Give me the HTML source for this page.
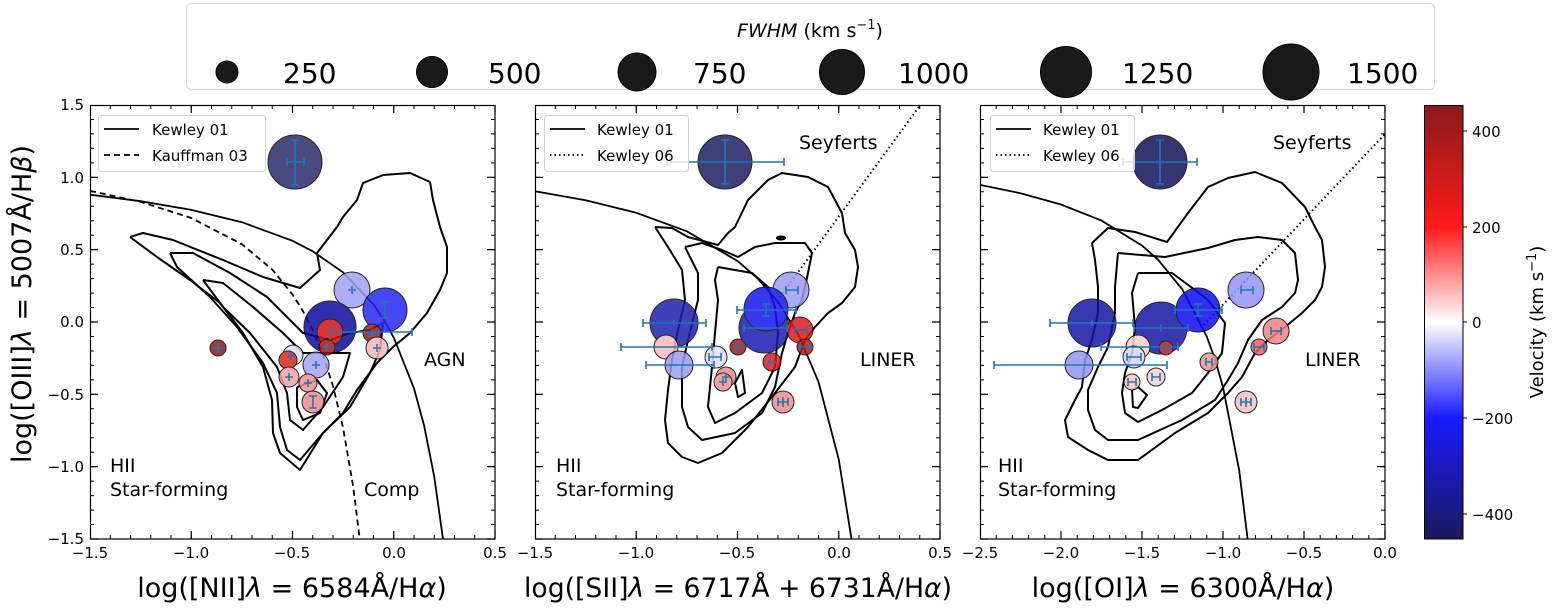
<!DOCTYPE html>
<html><head><meta charset="utf-8"><style>
html,body{margin:0;padding:0;background:#fff;}
svg{display:block;font-family:"DejaVu Sans","Liberation Sans",sans-serif;}
</style></head><body>
<svg width="1556" height="609" viewBox="0 0 1556 609" xmlns="http://www.w3.org/2000/svg">
<defs>
<linearGradient id="cb" x1="0" y1="0" x2="0" y2="1">
<stop offset="0" stop-color="#8a1a1a"/>
<stop offset="0.28" stop-color="#ff1a1a"/>
<stop offset="0.5" stop-color="#ffffff"/>
<stop offset="0.72" stop-color="#1a1aff"/>
<stop offset="1" stop-color="#1a1a5e"/>
</linearGradient>
</defs>

<!-- top legend -->
<rect x="186.5" y="3.5" width="1248" height="86" rx="5" fill="#fff" stroke="#d6d6d6"/>
<text x="810" y="37" font-size="19" text-anchor="middle"><tspan font-style="italic">FWHM</tspan> (km s<tspan dy="-8" font-size="13">−1</tspan><tspan dy="8">)</tspan></text>
<g fill="#1a1a1a" stroke="#000">
<circle cx="227" cy="72" r="11"/><circle cx="432" cy="72" r="15.5"/><circle cx="637" cy="72" r="19"/>
<circle cx="842" cy="72" r="22.5"/><circle cx="1066" cy="72" r="25.5"/><circle cx="1291" cy="72" r="28"/>
</g>
<g font-size="28">
<text x="283" y="83">250</text><text x="488" y="83">500</text><text x="693" y="83">750</text>
<text x="898" y="83">1000</text><text x="1122" y="83">1250</text><text x="1347" y="83">1500</text>
</g>

<!-- ===== PANEL 1 ===== -->
<g fill="none" stroke="#000" stroke-width="2" stroke-linejoin="round">
<polyline points="130,237 143,233 173,240 223,260 263,277 300,288 320,270 317,253 337,227 343,217 357,200 363,183 383,175 410,173 430,182 433,200 440,227 447,247 447,273 440,290 427,313 410,333 393,347 377,363 357,390 343,413 323,433 300,470 280,453 273,433 272,400 263,367 243,333 220,303 190,280 157,257 130,237"/>
<polyline points="170,253 193,253 230,273 267,297 303,333 330,340 350,333 370,330 383,323 380,350 370,373 350,407 323,433 300,460 287,450 280,427 277,393 263,363 237,327 210,297 177,267 170,253"/>
<polyline points="203,280 223,283 253,307 283,333 303,353 330,353 350,353 343,377 323,407 303,430 290,420 287,393 277,367 250,333 223,307 203,280"/>
<polyline points="297,387 317,380 327,393 320,413 303,420 297,407 297,387"/>
</g>
<polyline fill="none" stroke="#000" stroke-width="1.8" points="90,194.7 140.6,201.2 191.25,209.9 241.9,222.2 292.5,240.8 312.75,251.3 343.1,272.4 373.5,304.6 383.6,319.5 393.75,337.6 414,388.4 424.1,425.6 434.25,476.7 443,539"/>
<polyline fill="none" stroke="#000" stroke-width="1.8" stroke-dasharray="6,4" points="90,190.9 140.6,201.8 191.25,218 241.9,244.2 272.3,269.6 292.5,294.4 302.6,310.4 312.75,330.1 322.9,354.6 333,386.1 343.1,428 353.25,486.9 359.7,539"/>
<g stroke="#000" stroke-width="1" opacity="0.85">
<circle cx="295" cy="162" r="27" fill="#2a2b6a"/>
<circle cx="352" cy="290" r="18" fill="#a0a0f6"/>
<circle cx="385" cy="310" r="22" fill="#2626f2"/>
<circle cx="330" cy="327" r="26" fill="#0c0ca0"/>
<circle cx="330" cy="332" r="13" fill="#d81010"/>
<circle cx="327" cy="347" r="8" fill="#b01010"/>
<circle cx="372" cy="333" r="9" fill="#981c1c"/>
<circle cx="377" cy="348" r="11" fill="#f8b8b8"/>
<circle cx="218" cy="348" r="8" fill="#8b1c1c"/>
<circle cx="293" cy="355" r="10" fill="#dcdcf8"/>
<circle cx="288" cy="360" r="9" fill="#e02020"/>
<circle cx="316" cy="365" r="13" fill="#a4a4f6"/>
<circle cx="289" cy="377" r="10" fill="#f4a0a0"/>
<circle cx="308" cy="383" r="9" fill="#f29090"/>
<circle cx="313" cy="402" r="11" fill="#f28a8a"/>
</g>
<g stroke="#1f77b4" stroke-width="1.6" fill="none">
<path d="M295,140V185M291,140h8M291,185h8M287,162H304M287,158v8M304,158v8"/>
<path d="M330,332H412M412,328v8M330,324v16"/>
<path d="M352,286v8M348,290h8M385,302v16M381,302h8M381,318h8M372,329v8M368,333h8M377,344v8M373,348h8M218,344v8M214,348h8M316,361v8M312,365h8M313,396v12M309,396h8M309,408h8M289,373v8M285,377h8M308,379v8M304,383h8M291,352v8M287,356h8M327,343v8M323,347h8"/>
</g>
<rect x="98.5" y="115.5" width="167" height="56" rx="3" fill="#fff" fill-opacity="0.8" stroke="#d0d0d0"/>
<line x1="104" y1="129" x2="139" y2="129" stroke="#000" stroke-width="1.8"/>
<line x1="104" y1="155" x2="139" y2="155" stroke="#000" stroke-width="1.8" stroke-dasharray="6,4"/>
<text x="152" y="135" font-size="15">Kewley 01</text>
<text x="152" y="161" font-size="15">Kauffman 03</text>
<g font-size="19"><text x="110" y="472">HII</text><text x="110" y="496">Star-forming</text><text x="424" y="366">AGN</text><text x="364" y="496">Comp</text></g>
<rect x="90.5" y="105.5" width="404.5" height="433.5" fill="none" stroke="#000" stroke-width="1.2"/>
<g stroke="#000" stroke-width="1.1">
<line x1="90" y1="537" x2="496" y2="537" stroke-width="4" stroke-dasharray="1 19.25" stroke-dashoffset="0.5"/>
<line x1="90" y1="107" x2="496" y2="107" stroke-width="4" stroke-dasharray="1 19.25" stroke-dashoffset="0.5"/>
<line x1="90" y1="535" x2="496" y2="535" stroke-width="8" stroke-dasharray="1.2 100.05" stroke-dashoffset="0.6"/>
<line x1="90" y1="109" x2="496" y2="109" stroke-width="8" stroke-dasharray="1.2 100.05" stroke-dashoffset="0.6"/>
<line x1="92" y1="105" x2="92" y2="540" stroke-width="4" stroke-dasharray="1 13.467" stroke-dashoffset="0.5"/>
<line x1="493" y1="105" x2="493" y2="540" stroke-width="4" stroke-dasharray="1 13.467" stroke-dashoffset="0.5"/>
<line x1="94" y1="105" x2="94" y2="540" stroke-width="8" stroke-dasharray="1.2 71.13" stroke-dashoffset="0.6"/>
<line x1="491" y1="105" x2="491" y2="540" stroke-width="8" stroke-dasharray="1.2 71.13" stroke-dashoffset="0.6"/>
</g>

<!-- ===== PANEL 2 ===== -->
<g fill="none" stroke="#000" stroke-width="2" stroke-linejoin="round">
<polyline points="655,227 672,228 688,237 718,245 728,233 735,227 748,200 768,180 782,173 808,177 828,187 835,200 842,213 845,233 855,250 858,267 855,287 842,303 828,313 815,327 805,340 795,367 775,393 748,427 722,453 698,463 682,457 668,443 665,420 668,390 672,360 678,330 685,300 682,270 668,247 655,227"/>
<polyline points="685,247 702,243 722,250 738,257 755,247 775,243 805,243 812,253 808,273 802,300 795,313 788,333 782,353 775,387 762,413 735,433 702,440 688,427 682,407 682,367 688,340 698,300 698,273 685,247"/>
<polyline points="718,267 735,270 752,273 768,287 775,307 778,333 775,367 762,393 735,413 715,423 708,407 712,367 715,333 718,300 715,280 718,267"/>
<polyline points="735,383 742,370 745,393 738,397 735,383"/>
<ellipse cx="781" cy="238" rx="4" ry="1.5" fill="#000"/>
</g>
<polyline fill="none" stroke="#000" stroke-width="1.8" points="535,191.2 585.6,200.3 636.25,212.8 686.9,231.3 737.5,261 757.75,278.6 778,301.9 798.25,334.3 818.5,381.9 838.75,459.4 851.5,539"/>
<line x1="780" y1="297" x2="920.3" y2="105" stroke="#000" stroke-width="2" stroke-dasharray="1.5,3"/>
<g stroke="#000" stroke-width="1" opacity="0.85">
<circle cx="725" cy="162" r="27" fill="#1e1f62"/>
<circle cx="791" cy="290" r="18" fill="#9c9cf6"/>
<circle cx="764" cy="328" r="25" fill="#1c1cb0"/>
<circle cx="766" cy="309" r="22" fill="#1414f2"/>
<circle cx="800" cy="330" r="13" fill="#e01818"/>
<circle cx="805" cy="347" r="8" fill="#c01414"/>
<circle cx="674" cy="323" r="24" fill="#1f1fb0"/>
<circle cx="666" cy="347" r="12" fill="#f4bcbc"/>
<circle cx="679" cy="365" r="14" fill="#9c9cf0"/>
<circle cx="716" cy="357" r="11" fill="#e0e0f8"/>
<circle cx="738" cy="347" r="8" fill="#9c1c1c"/>
<circle cx="772" cy="362" r="9" fill="#e01818"/>
<circle cx="726" cy="377" r="10" fill="#f08888"/>
<circle cx="723" cy="382" r="9" fill="#f09090"/>
<circle cx="783" cy="402" r="11" fill="#f28a8a"/>
</g>
<g stroke="#1f77b4" stroke-width="1.6" fill="none">
<path d="M725,140V184M721,140h8M721,184h8M667,162H784M667,158v8M784,158v8"/>
<path d="M737,310H796M737,306v8M796,306v8M766,304v12M762,304h8M762,316h8"/>
<path d="M744,328H787M744,324v8M787,324v8"/>
<path d="M643,323H706M643,319v8M706,319v8M674,320v6"/>
<path d="M621,347H712M621,343v8M712,343v8"/>
<path d="M646,365H714M646,361v8M714,361v8"/>
<path d="M786,290h12M786,286v8M798,286v8M795,330h12M795,326v8M807,326v8M800,347h10M800,343v8M810,343v8M709,357h12M709,353v8M721,353v8M734,347h8M738,343v8M768,362h8M770,358v8M722,377h8M726,373v8M719,382h8M723,378v8M778,402h10M783,397v10M778,398v8M788,398v8"/>
</g>
<rect x="544.5" y="115.5" width="144" height="56" rx="3" fill="#fff" fill-opacity="0.8" stroke="#d0d0d0"/>
<line x1="550" y1="129" x2="585" y2="129" stroke="#000" stroke-width="1.8"/>
<line x1="550" y1="155" x2="585" y2="155" stroke="#000" stroke-width="1.8" stroke-dasharray="1.5,3"/>
<text x="597" y="135" font-size="15">Kewley 01</text>
<text x="597" y="161" font-size="15">Kewley 06</text>
<g font-size="19"><text x="556" y="472">HII</text><text x="556" y="496">Star-forming</text><text x="799" y="149">Seyferts</text><text x="860" y="366">LINER</text></g>
<rect x="535.5" y="105.5" width="404.5" height="433.5" fill="none" stroke="#000" stroke-width="1.2"/>
<g stroke="#000" stroke-width="1.1">
<line x1="535" y1="537" x2="941" y2="537" stroke-width="4" stroke-dasharray="1 19.25" stroke-dashoffset="0.5"/>
<line x1="535" y1="107" x2="941" y2="107" stroke-width="4" stroke-dasharray="1 19.25" stroke-dashoffset="0.5"/>
<line x1="535" y1="535" x2="941" y2="535" stroke-width="8" stroke-dasharray="1.2 100.05" stroke-dashoffset="0.6"/>
<line x1="535" y1="109" x2="941" y2="109" stroke-width="8" stroke-dasharray="1.2 100.05" stroke-dashoffset="0.6"/>
<line x1="537" y1="105" x2="537" y2="540" stroke-width="4" stroke-dasharray="1 13.467" stroke-dashoffset="0.5"/>
<line x1="938" y1="105" x2="938" y2="540" stroke-width="4" stroke-dasharray="1 13.467" stroke-dashoffset="0.5"/>
<line x1="539" y1="105" x2="539" y2="540" stroke-width="8" stroke-dasharray="1.2 71.13" stroke-dashoffset="0.6"/>
<line x1="936" y1="105" x2="936" y2="540" stroke-width="8" stroke-dasharray="1.2 71.13" stroke-dashoffset="0.6"/>
</g>

<!-- ===== PANEL 3 ===== -->
<g fill="none" stroke="#000" stroke-width="2" stroke-linejoin="round">
<polyline points="1092,243 1108,228 1135,232 1167,242 1188,213 1208,187 1228,178 1255,172 1282,183 1305,207 1315,227 1322,240 1325,267 1322,287 1315,300 1302,313 1285,327 1268,340 1255,353 1242,377 1228,393 1208,413 1175,433 1138,460 1108,460 1088,450 1068,437 1065,420 1075,400 1082,387 1085,360 1092,340 1098,313 1098,287 1095,260 1092,243"/>
<polyline points="1118,253 1165,257 1208,248 1235,240 1258,237 1282,240 1295,253 1298,280 1295,293 1282,307 1262,320 1248,340 1238,363 1228,380 1215,400 1182,420 1138,440 1108,440 1095,430 1088,410 1088,390 1098,367 1108,347 1115,313 1115,287 1118,253"/>
<polyline points="1138,273 1172,273 1195,290 1208,300 1225,323 1222,353 1208,373 1192,393 1162,410 1138,422 1125,413 1122,393 1125,373 1132,353 1135,327 1132,293 1138,273"/>
<polyline points="1132,390 1138,387 1147,395 1138,408 1133,407 1132,390"/>
</g>
<polyline fill="none" stroke="#000" stroke-width="1.8" points="980,184.9 1020.5,193.2 1061,204.5 1101.5,220.6 1142,245.6 1158.2,259.9 1182.5,289.6 1206.8,336.6 1215,359.2 1223,387.1 1239.2,470.3 1247.6,539"/>
<line x1="1203.6" y1="325" x2="1385" y2="134" stroke="#000" stroke-width="2" stroke-dasharray="1.5,3"/>
<g stroke="#000" stroke-width="1" opacity="0.85">
<circle cx="1160" cy="162" r="27" fill="#14155a"/>
<circle cx="1246" cy="290" r="18" fill="#9494f6"/>
<circle cx="1161" cy="328" r="26" fill="#1616a6"/>
<circle cx="1198" cy="310" r="22" fill="#0c0cf0"/>
<circle cx="1092" cy="323" r="24" fill="#1616a6"/>
<circle cx="1138" cy="347" r="12" fill="#f8d0d0"/>
<circle cx="1166" cy="348" r="7" fill="#c01818"/>
<circle cx="1079" cy="365" r="14" fill="#9494f0"/>
<circle cx="1134" cy="357" r="11" fill="#d6d6f8"/>
<circle cx="1132" cy="382" r="8" fill="#f8c4c4"/>
<circle cx="1156" cy="377" r="9" fill="#f8d0d0"/>
<circle cx="1209" cy="362" r="9" fill="#f09494"/>
<circle cx="1276" cy="331" r="13" fill="#f08080"/>
<circle cx="1259" cy="347" r="8" fill="#e86060"/>
<circle cx="1246" cy="402" r="11" fill="#f8c0c0"/>
</g>
<g stroke="#1f77b4" stroke-width="1.6" fill="none">
<path d="M1160,140V184M1156,140h8M1156,184h8M1123,162H1197M1123,158v8M1197,158v8"/>
<path d="M1175,310H1222M1175,306v8M1222,306v8M1198,304v12M1194,304h8M1194,316h8"/>
<path d="M1134,328H1188M1134,324v8M1188,324v8M1161,325v6"/>
<path d="M1050,323H1133M1050,319v8M1133,319v8M1092,320v6"/>
<path d="M1101,347H1178M1101,343v8M1178,343v8"/>
<path d="M994,365H1167M994,361v8M1167,361v8"/>
<path d="M1241,290h12M1241,286v8M1253,286v8M1271,331h10M1271,327v8M1281,327v8M1254,347h10M1254,343v8M1264,343v8M1127,357h14M1127,353v8M1141,353v8M1128,382h8M1128,378v8M1136,378v8M1152,377h8M1152,373v8M1160,373v8M1206,362h6M1206,358v8M1212,358v8M1241,402h10M1246,397v10M1241,398v8M1251,398v8M1161,348h10"/>
</g>
<rect x="990.5" y="115.5" width="144" height="56" rx="3" fill="#fff" fill-opacity="0.8" stroke="#d0d0d0"/>
<line x1="996" y1="129" x2="1031" y2="129" stroke="#000" stroke-width="1.8"/>
<line x1="996" y1="155" x2="1031" y2="155" stroke="#000" stroke-width="1.8" stroke-dasharray="1.5,3"/>
<text x="1043" y="135" font-size="15">Kewley 01</text>
<text x="1043" y="161" font-size="15">Kewley 06</text>
<g font-size="19"><text x="998" y="472">HII</text><text x="998" y="496">Star-forming</text><text x="1273" y="149">Seyferts</text><text x="1305" y="366">LINER</text></g>
<rect x="980.5" y="105.5" width="404.5" height="433.5" fill="none" stroke="#000" stroke-width="1.2"/>
<g stroke="#000" stroke-width="1.1">
<line x1="980" y1="537" x2="1386" y2="537" stroke-width="4" stroke-dasharray="1 15.2" stroke-dashoffset="0.5"/>
<line x1="980" y1="107" x2="1386" y2="107" stroke-width="4" stroke-dasharray="1 15.2" stroke-dashoffset="0.5"/>
<line x1="980" y1="535" x2="1386" y2="535" stroke-width="8" stroke-dasharray="1.2 79.8" stroke-dashoffset="0.6"/>
<line x1="980" y1="109" x2="1386" y2="109" stroke-width="8" stroke-dasharray="1.2 79.8" stroke-dashoffset="0.6"/>
<line x1="982" y1="105" x2="982" y2="540" stroke-width="4" stroke-dasharray="1 13.467" stroke-dashoffset="0.5"/>
<line x1="1383" y1="105" x2="1383" y2="540" stroke-width="4" stroke-dasharray="1 13.467" stroke-dashoffset="0.5"/>
<line x1="984" y1="105" x2="984" y2="540" stroke-width="8" stroke-dasharray="1.2 71.13" stroke-dashoffset="0.6"/>
<line x1="1381" y1="105" x2="1381" y2="540" stroke-width="8" stroke-dasharray="1.2 71.13" stroke-dashoffset="0.6"/>
</g>

<!-- tick labels -->
<g font-size="15" text-anchor="middle">
<text x="90" y="558">−1.5</text><text x="191" y="558">−1.0</text><text x="292" y="558">−0.5</text><text x="394" y="558">0.0</text><text x="495" y="558">0.5</text>
<text x="535" y="558">−1.5</text><text x="636" y="558">−1.0</text><text x="737" y="558">−0.5</text><text x="839" y="558">0.0</text><text x="940" y="558">0.5</text>
<text x="980" y="558">−2.5</text><text x="1061" y="558">−2.0</text><text x="1142" y="558">−1.5</text><text x="1223" y="558">−1.0</text><text x="1304" y="558">−0.5</text><text x="1385" y="558">0.0</text>
</g>
<g font-size="15" text-anchor="end">
<text x="84" y="110">1.5</text><text x="84" y="183">1.0</text><text x="84" y="255">0.5</text><text x="84" y="327">0.0</text><text x="84" y="400">−0.5</text><text x="84" y="472">−1.0</text><text x="84" y="544">−1.5</text>
</g>
<!-- axis titles -->
<g font-size="27" text-anchor="middle">
<text x="292" y="597">log([NII]<tspan font-style="italic">λ</tspan> = 6584Å/H<tspan font-style="italic">α</tspan>)</text>
<text x="738" y="597" textLength="428" lengthAdjust="spacingAndGlyphs">log([SII]<tspan font-style="italic">λ</tspan> = 6717Å + 6731Å/H<tspan font-style="italic">α</tspan>)</text>
<text x="1183" y="597">log([OI]<tspan font-style="italic">λ</tspan> = 6300Å/H<tspan font-style="italic">α</tspan>)</text>
<text transform="translate(31,304) rotate(-90)">log([OIII]<tspan font-style="italic">λ</tspan> = 5007Å/H<tspan font-style="italic">β</tspan>)</text>
</g>

<!-- colorbar -->
<rect x="1424.5" y="105.5" width="38.5" height="433.5" fill="url(#cb)" stroke="#000" stroke-width="1"/>
<g stroke="#000" stroke-width="1">
<line x1="1463" y1="131" x2="1467" y2="131"/><line x1="1463" y1="227" x2="1467" y2="227"/><line x1="1463" y1="322" x2="1467" y2="322"/><line x1="1463" y1="418" x2="1467" y2="418"/><line x1="1463" y1="514" x2="1467" y2="514"/>
</g>
<g font-size="15">
<text x="1472" y="137">400</text><text x="1472" y="233">200</text><text x="1472" y="328">0</text><text x="1472" y="424">−200</text><text x="1472" y="520">−400</text>
</g>
<text transform="translate(1543,322) rotate(-90)" font-size="18" text-anchor="middle">Velocity (km s<tspan dy="-7" font-size="13">−1</tspan><tspan dy="7">)</tspan></text>
</svg>
</body></html>
